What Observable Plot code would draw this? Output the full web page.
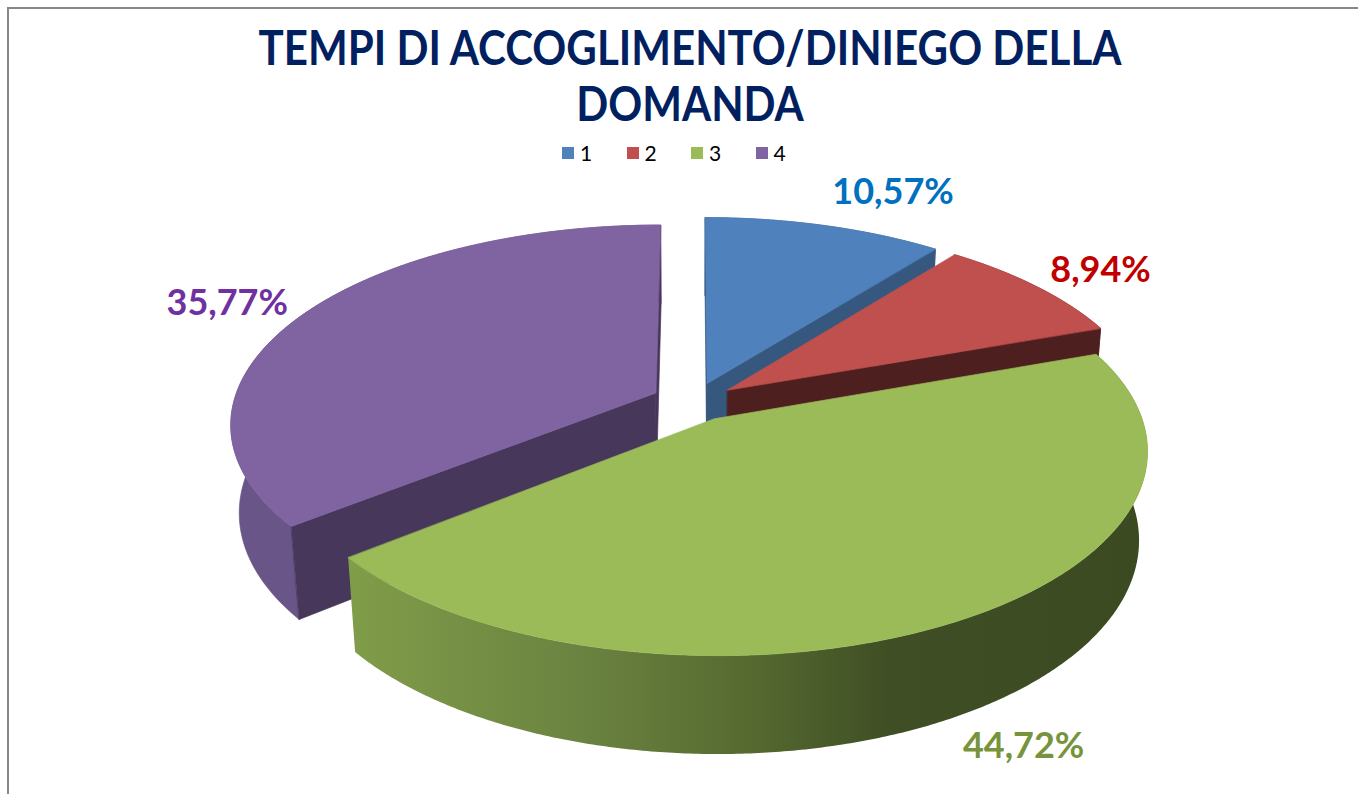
<!DOCTYPE html>
<html>
<head>
<meta charset="utf-8">
<script src="https://cdn.jsdelivr.net/npm/d3@7"></script>
<script src="https://cdn.jsdelivr.net/npm/@observablehq/plot@0.6"></script>
<style>
  html, body { margin: 0; padding: 0; background: #fff; width: 1358px; height: 794px; overflow: hidden; }
  #frame { position: absolute; left: 7px; top: 7px; width: 1400px; height: 820px;
           border-left: 2px solid #878787; border-top: 2px solid #878787; box-sizing: border-box; }
  #title { position: absolute; left: 0; top: 19px; width: 1380px; text-align: center;
           font-family: Lato, sans-serif; font-weight: bold; font-size: 47px;
           line-height: 56px; color: #002060; transform: scaleX(0.895); transform-origin: 690px 0; }
  #legend { position: absolute; top: 141px; left: 562px; display: flex; font-family: Lato, sans-serif;
            font-size: 21px; color: #000; line-height: 24px; }
  #legend .item { display: flex; align-items: center; width: 64.5px; }
  #legend .sw { width: 12px; height: 12px; margin-right: 6px; display: inline-block; }
  #chart { position: absolute; left: 0; top: 170px; }
</style>
</head>
<body>
<svg width="0" height="0" style="position:absolute">
  <defs>
    <linearGradient id="greenWall" x1="0" y1="0" x2="1" y2="0">
      <stop offset="0" stop-color="#809D49"/>
      <stop offset="0.3" stop-color="#6A8240"/>
      <stop offset="0.5" stop-color="#566A30"/>
      <stop offset="0.68" stop-color="#3F4E24"/>
      <stop offset="1" stop-color="#3C4A21"/>
    </linearGradient>
  </defs>
</svg>
<div id="frame"></div>
<div id="title">TEMPI DI ACCOGLIMENTO/DINIEGO DELLA<br>DOMANDA</div>
<div id="legend"></div>
<div id="chart"></div>
<script>
// ---- data ----
const categories = ["1", "2", "3", "4"];
const shares = [10.57, 8.94, 44.72, 35.77];
const labelTexts = ["10,57%", "8,94%", "44,72%", "35,77%"];

// ---- styles ----
const palette = ["#4F81BD", "#C0504D", "#9BBB59", "#8064A2"];
const radialColors = ["#36587F", "#4E1F1F", "#3E4D22", "#47375A"];
const outerColors = ["#3A5F8C", "#7A2F2D", "url(#greenWall)", "#6A5588"];
const labelColors = ["#0070C0", "#C00000", "#77933C", "#7030A0"];

// ---- geometry / projection settings ----
const W = 1358, H = 624;
const CX = 693, CY = 231;          // pie centre inside svg (px)
const SX = 422, SY = 195.6, SZ = 378, P = 0.15, PZ = 0.078;
const EXPLODE = 0.1, DEPTH = 0.235;

function P3(u, v, z) {
  const den = 1 + P * v - PZ * z;
  return { x: SX * u / den, y: (SY * v + SZ * z) / den };
}
function signedArea(pts) {
  let s = 0;
  for (let i = 0; i < pts.length; i++) {
    const a = pts[i], b = pts[(i + 1) % pts.length];
    s += a.x * b.y - b.x * a.y;
  }
  return s / 2;
}
const STEP = Math.PI / 360;
function arcAngles(a0, a1) {
  const n = Math.max(2, Math.ceil((a1 - a0) / STEP));
  return d3.range(n + 1).map(k => a0 + (a1 - a0) * k / n);
}

const total = d3.sum(shares);
let acc = 0;
const slices = categories.map((c, i) => {
  const a0 = acc / total * 2 * Math.PI; acc += shares[i];
  const a1 = acc / total * 2 * Math.PI;
  return { i, c, a0, a1, mid: (a0 + a1) / 2 };
});
// painter's order: farthest slice first
const order = slices.slice().sort((a, b) => Math.cos(b.mid) - Math.cos(a.mid));

const faces = [];
const labels = [];
for (const s of order) {
  const ox = EXPLODE * Math.sin(s.mid), oy = EXPLODE * Math.cos(s.mid);
  const rim = (t, z) => P3(ox + Math.sin(t), oy + Math.cos(t), z);
  const apex = z => P3(ox, oy, z);
  const angs = arcAngles(s.a0, s.a1);
  // outer wall
  faces.push({ pts: [...angs.map(t => rim(t, 0)), ...angs.slice().reverse().map(t => rim(t, -DEPTH))],
               fill: outerColors[s.i] });
  // radial walls (only those facing the viewer)
  const wStart = [rim(s.a0, 0), apex(0), apex(-DEPTH), rim(s.a0, -DEPTH)];
  const wEnd = [apex(0), rim(s.a1, 0), rim(s.a1, -DEPTH), apex(-DEPTH)];
  for (const w of [wStart, wEnd]) if (signedArea(w) < 0) faces.push({ pts: w, fill: radialColors[s.i] });
  // top face
  faces.push({ pts: [apex(0), ...angs.map(t => rim(t, 0))], fill: palette[s.i] });
  // label anchor: outside end of the slice
  const c = Math.cos(s.mid), sn = Math.sin(s.mid);
  const upper = c > 0, right = sn > 0;
  const a = rim(s.mid, upper ? 0 : -DEPTH);
  labels.push({ ...a, text: labelTexts[s.i], color: labelColors[s.i], right,
                dx: Math.sign(sn) * (4 + 12 * Math.abs(sn)),
                dy: -Math.sign(c) * (6 + 30 * c * c) });
}

const marks = faces.map(f => Plot.line(f.pts, {
  x: "x", y: "y", curve: "linear-closed",
  fill: f.fill, stroke: f.fill.startsWith("url") ? "none" : f.fill, strokeWidth: 0.7
}));
for (const l of labels) {
  marks.push(Plot.text([l], {
    x: "x", y: "y", text: "text", fill: l.color,
    fontFamily: "Lato, sans-serif", fontWeight: "bold", fontSize: 36,
    textAnchor: l.right ? "start" : "end", lineAnchor: "middle",
    dx: l.dx, dy: l.dy
  }));
}

const chart = Plot.plot({
  width: W, height: H, margin: 0,
  x: { domain: [-CX, W - CX], axis: null },
  y: { domain: [-(H - CY), CY], axis: null },
  style: { background: "transparent", overflow: "visible" },
  marks
});
document.getElementById("chart").append(chart);

// legend
const lg = d3.select("#legend");
categories.forEach((c, i) => {
  const it = lg.append("span").attr("class", "item");
  it.append("span").attr("class", "sw").style("background", palette[i]);
  it.append("span").text(c);
});
</script>
</body>
</html>
